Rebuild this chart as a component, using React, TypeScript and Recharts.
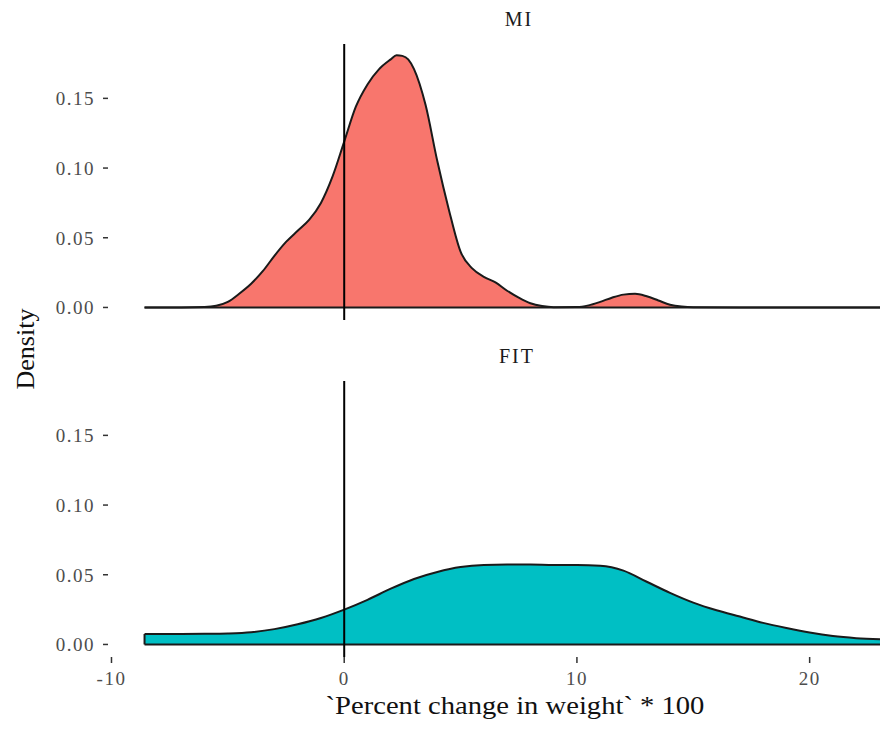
import React from "react";
import { AreaChart, Area, XAxis, YAxis, ReferenceLine } from "recharts";

// density values
const MI_X = [-8.58, -7, -6, -5.5, -5, -4.5, -4, -3.5, -3, -2.5, -2, -1.5, -1, -0.5, 0, 0.5, 1, 1.5, 2, 2.25, 2.5, 2.75, 3, 3.5, 4, 4.5, 5, 5.5, 6, 6.5, 7, 7.5, 8, 8.5, 9, 10, 10.5, 11, 11.5, 12, 12.5, 13, 13.5, 14, 14.5, 15, 17, 23.4];
const MI_Y = [0, 0, 0.0003, 0.0012, 0.004, 0.01, 0.017, 0.026, 0.037, 0.047, 0.055, 0.063, 0.075, 0.094, 0.119, 0.144, 0.16, 0.171, 0.178, 0.181, 0.1805, 0.178, 0.171, 0.145, 0.105, 0.07, 0.04, 0.028, 0.022, 0.018, 0.012, 0.007, 0.003, 0.001, 0.0002, 0.0003, 0.0015, 0.004, 0.007, 0.0092, 0.0098, 0.008, 0.005, 0.002, 0.0006, 0.0001, 0, 0];

const FIT_X = [-8.58, -7, -6, -5, -4, -3, -2, -1, 0, 1, 2, 3, 4, 5, 6, 7, 8, 9, 10, 11, 12, 13, 14, 15, 16, 17, 18, 19, 20, 21, 22, 23.4];
const FIT_Y = [0.0075, 0.0075, 0.0076, 0.0079, 0.0088, 0.011, 0.0145, 0.019, 0.025, 0.032, 0.04, 0.047, 0.052, 0.0555, 0.057, 0.0573, 0.0573, 0.057, 0.057, 0.0565, 0.053, 0.045, 0.037, 0.03, 0.0245, 0.02, 0.0155, 0.0118, 0.0085, 0.006, 0.0045, 0.0035];

const X_TICKS = [-10, 0, 10, 20];
const Y_TICKS = [0, 0.05, 0.1, 0.15];

const X_DOMAIN = [-10.15, 25.0];
const Y_DOMAIN = [-0.009, 0.189];

const FONT = "'Liberation Serif', 'Times New Roman', serif";

const toRows = (xs: number[], ys: number[]) => xs.map((x, i) => ({ x, y: ys[i] }));

const tickStyle = { fontSize: 19, fill: "#4d4d4d", fontFamily: FONT, letterSpacing: 1.5 };

const Panel = ({ xs, ys, fill, showX }: any) => {
  const data = toRows(xs, ys);
  const x0 = xs[0];
  const x1 = xs[xs.length - 1];
  return (
    <AreaChart
      width={940}
      height={showX ? 360 : 330}
      data={data}
      margin={{ top: 44, right: 14, bottom: showX ? 0 : 10, left: 0 }}
    >
      <XAxis
        dataKey="x"
        type="number"
        domain={X_DOMAIN}
        allowDataOverflow
        ticks={X_TICKS}
        hide={!showX}
        axisLine={false}
        tickSize={6}
        tickMargin={9}
        tickLine={{ stroke: "#333", strokeWidth: 1.5 }}
        tick={tickStyle}
        height={40}
      />
      <YAxis
        type="number"
        domain={Y_DOMAIN}
        allowDataOverflow
        ticks={Y_TICKS}
        tickFormatter={(v: number) => v.toFixed(2)}
        axisLine={false}
        width={108}
        tickSize={5}
        tickMargin={8}
        tickLine={{ stroke: "#333", strokeWidth: 1.5 }}
        tick={tickStyle}
      />
      <Area
        type="monotone"
        dataKey="y"
        baseValue={0}
        stroke="#1a1a1a"
        strokeWidth={2}
        fill={fill}
        fillOpacity={1}
        dot={false}
        activeDot={false}
        isAnimationActive={false}
      />
      <ReferenceLine segment={[{ x: x0, y: 0 }, { x: x1, y: 0 }]} stroke="#1a1a1a" strokeWidth={2} />
      <ReferenceLine segment={[{ x: x0, y: 0 }, { x: x0, y: ys[0] }]} stroke="#1a1a1a" strokeWidth={2} />
      <ReferenceLine x={0} stroke="#000" strokeWidth={2} />
    </AreaChart>
  );
};

const App = () => {
  return (
    <div
      style={{
        position: "absolute",
        left: 0,
        top: 0,
        width: 880,
        height: 729,
        overflow: "hidden",
        background: "#fff",
        fontFamily: FONT,
      }}
    >
      <div style={{ position: "absolute", left: 0, top: 0 }}>
        <Panel xs={MI_X} ys={MI_Y} fill="#F8766D" showX={false} />
      </div>
      <div style={{ position: "absolute", left: 0, top: 337 }}>
        <Panel xs={FIT_X} ys={FIT_Y} fill="#00BFC4" showX={true} />
      </div>
      <div style={{ position: "absolute", left: 419, top: 8, width: 200, textAlign: "center", fontSize: 20, letterSpacing: 2, color: "#1a1a1a" }}>MI</div>
      <div style={{ position: "absolute", left: 417, top: 345, width: 200, textAlign: "center", fontSize: 20, letterSpacing: 2, color: "#1a1a1a" }}>FIT</div>
      <div
        style={{
          position: "absolute",
          left: 26,
          top: 349,
          transform: "translate(-50%, -50%) rotate(-90deg)",
          fontSize: 26,
          whiteSpace: "nowrap",
          color: "#111",
        }}
      >
        Density
      </div>
      <div
        style={{
          position: "absolute",
          left: 215,
          top: 691,
          width: 600,
          textAlign: "center",
          fontSize: 26,
          transform: "scaleX(1.1)",
          color: "#111",
          whiteSpace: "nowrap",
        }}
      >
        `Percent change in weight` * 100
      </div>
    </div>
  );
};

export default App;
